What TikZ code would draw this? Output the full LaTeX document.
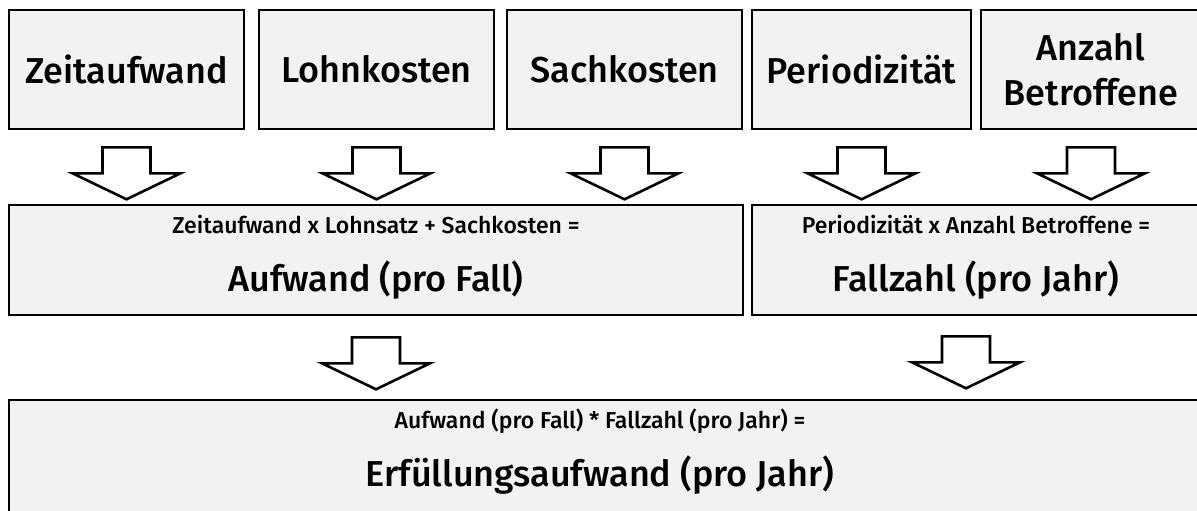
\documentclass[tikz,border=0pt]{standalone}
\usepackage{fontspec}
\setmainfont{Fira Sans Medium}
\usetikzlibrary{positioning}

\definecolor{boxfill}{HTML}{F2F2F2}

\tikzset{
    downarrow/.pic = {
        \draw[arrowline] (-24,0) -- (24,0) -- (24,-26) -- (54,-26) -- (0,-52)
            -- (-54,-26) -- (-24,-26) -- cycle;
    }
}

\begin{document}
\begin{tikzpicture}[
        x = 1pt, y = 1pt,
        box/.style = {draw = black, line width = 2.6pt, fill = boxfill,
            inner sep = 0pt, minimum height = 119pt},
        label/.style = {font = \fontsize{36}{45}\selectfont, align = center},
        formel/.style = {font = \fontsize{23}{28}\selectfont, anchor = base},
        ergebnis/.style = {font = \fontsize{36}{44}\selectfont, anchor = base},
        arrowline/.style = {draw = black, line width = 2.6pt, fill = white,
            line join = miter}
    ]

        \useasboundingbox (0,0) rectangle (1197,-511);

        % obere Reihe
        \node[box, label, minimum width = 235pt] (zeit) at (126.5,-69.5) {Zeitaufwand};
        \node[box, label, minimum width = 235pt] (lohn) at (376.5,-69.5) {Lohnkosten};
        \node[box, label, minimum width = 235pt] (sach) at (624.5,-69.5) {Sachkosten};
        \node[box, label, minimum width = 219pt] (peri) at (861.5,-69.5) {Periodizität};
        \node[box, label, minimum width = 220pt] (anz) at (1091,-69.5) {Anzahl\\Betroffene};

        % mittlere Reihe
        \node[box, minimum width = 734pt, minimum height = 110pt] (aufw) at (376,-260) {};
        \node[box, minimum width = 448pt, minimum height = 110pt] (fall) at (976,-260) {};

        \node[formel] (aufwformel) at ([yshift = -30pt]aufw.north)
            {Zeitaufwand x Lohnsatz + Sachkosten =};
        \node[ergebnis] (aufwtext) at ([yshift = -88pt]aufw.north) {Aufwand (pro Fall)};
        \node[formel] (fallformel) at ([yshift = -30pt]fall.north)
            {Periodizität x Anzahl Betroffene =};
        \node[ergebnis] (falltext) at ([yshift = -88pt]fall.north) {Fallzahl (pro Jahr)};

        % untere Reihe
        \node[box, minimum width = 1192pt, minimum height = 140pt] (erf) at (605,-470) {};
        \node[formel] (erfformel) at ([xshift = -5pt, yshift = -30pt]erf.north)
            {Aufwand (pro Fall) * Fallzahl (pro Jahr) =};
        \node[ergebnis] (erftext) at ([xshift = -5pt, yshift = -88pt]erf.north)
            {Erfüllungsaufwand (pro Jahr)};

        % Pfeile
        \foreach \n in {zeit, lohn, sach, peri, anz}
            \pic at ([yshift = -17pt]\n.south) {downarrow};
        \pic at ([yshift = -21pt]aufw.south) {downarrow};
        \pic at ([xshift = -10pt, yshift = -20pt]fall.south) {downarrow};

    \end{tikzpicture}
\end{document}
